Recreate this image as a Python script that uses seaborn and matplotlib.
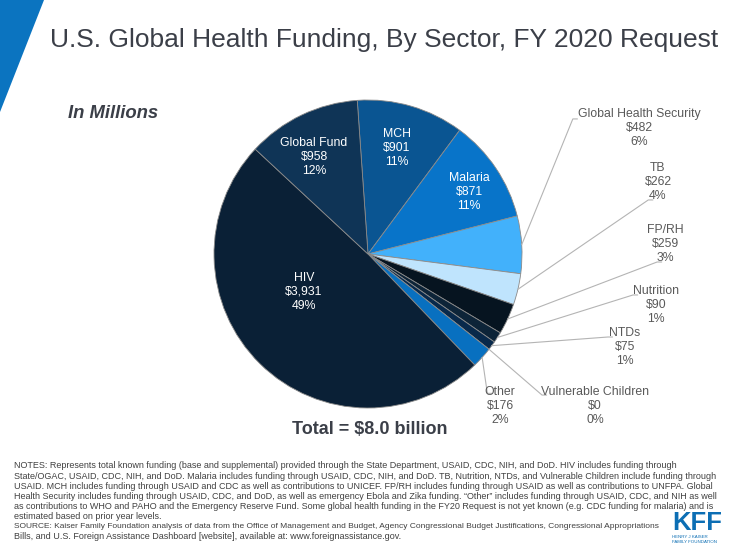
import matplotlib
matplotlib.use("Agg")
import matplotlib.pyplot as plt
import seaborn as sns
import numpy as np
from matplotlib.patches import Polygon
from matplotlib.lines import Line2D
from matplotlib import font_manager

# ---------------- data ----------------
sectors = ["MCH", "Malaria", "Global Health Security", "TB", "FP/RH", "Nutrition",
           "NTDs", "Vulnerable Children", "Other", "HIV", "Global Fund"]
values = [901, 871, 482, 262, 259, 90, 75, 0, 176, 3931, 958]
pct_text = ["11%", "11%", "6%", "4%", "3%", "1%", "1%", "0%", "2%", "49%", "12%"]
slice_colors = ["#0a5592", "#0874c9", "#42b1fb", "#bfe4fd", "#061420", "#0d2438",
                "#08294b", "#08294b", "#0870c0", "#0a2036", "#0f3456"]

title = "U.S. Global Health Funding, By Sector, FY 2020 Request"
subtitle = "In Millions"
total_text = "Total = $8.0 billion"
notes_lines = [
    "NOTES: Represents total known funding (base and supplemental) provided through the State Department, USAID, CDC, NIH, and DoD. HIV includes funding through",
    "State/OGAC, USAID, CDC, NIH, and DoD. Malaria includes funding through USAID, CDC, NIH, and DoD. TB, Nutrition, NTDs, and Vulnerable Children include funding through",
    "USAID. MCH includes funding through USAID and CDC as well as contributions to UNICEF. FP/RH includes funding through USAID as well as contributions to UNFPA. Global",
    "Health Security includes funding through USAID, CDC, and DoD, as well as emergency Ebola and Zika funding. \u201cOther\u201d includes funding through USAID, CDC, and NIH as well",
    "as contributions to WHO and PAHO and the Emergency Reserve Fund. Some global health funding in the FY20 Request is not yet known (e.g. CDC funding for malaria) and is",
    "estimated based on prior year levels.",
    "SOURCE: Kaiser Family Foundation analysis of data from the Office of Management and Budget, Agency Congressional Budget Justifications, Congressional Appropriations",
    "Bills, and U.S. Foreign Assistance Dashboard [website], available at: www.foreignassistance.gov.",
]

# label placement (pie-radius units, relative to pie centre)
inside_pos = {"HIV": (-0.416, -0.245), "Global Fund": (-0.35, 0.63),
              "MCH": (0.188, 0.69), "Malaria": (0.656, 0.405)}
outside_pos = {"Global Health Security": ((1.76, 0.818), (1.33, 0.877)),
               "TB": ((1.883, 0.468), (1.82, 0.351)),
               "FP/RH": ((1.929, 0.065), (1.877, -0.052)),
               "Nutrition": ((1.87, -0.331), (1.721, -0.266)),
               "NTDs": ((1.669, -0.604), (1.558, -0.539)),
               "Vulnerable Children": ((1.474, -0.987), (1.13, -0.916)),
               "Other": ((0.857, -0.987), (0.775, -0.905))}

# ---------------- figure ----------------
W, H = 735, 551
sns.set_theme(style="white")
plt.rcParams['font.family'] = ['Liberation Sans', 'DejaVu Sans']
palette = sns.color_palette(slice_colors)

installed = {f.name for f in font_manager.fontManager.ttflist}
narrow = ['Liberation Sans Narrow'] if 'Liberation Sans Narrow' in installed else ['Liberation Sans']
narrow = narrow + ['DejaVu Sans']

fig = plt.figure(figsize=(W / 100, H / 100), dpi=100)
fig.patch.set_facecolor("white")
renderer = fig.canvas.get_renderer()


def fit_width(txt, target_px):
    for _ in range(4):
        w = txt.get_window_extent(renderer=renderer).width
        txt.set_fontsize(txt.get_fontsize() * target_px / w)
    return txt.get_fontsize()


# decorative blue triangle
fig.patches.append(Polygon([(0, 1), (44 / W, 1), (0, 1 - 112 / H)], closed=True,
                           transform=fig.transFigure, facecolor="#0b74c0",
                           edgecolor="none"))

t = fig.text(50 / W, 1 - 40 / H, title, fontsize=22, color="#3b3f48",
             family=narrow, ha="left", va="center")
fit_width(t, 668)

fig.text(68 / W, 1 - 113 / H, subtitle, fontsize=13.3, color="#3b3f48",
         fontweight="bold", fontstyle="italic", ha="left", va="center")

cx, cy, R = 368, 254, 154
ax = fig.add_axes([(cx - R) / W, 1 - (cy + R) / H, 2 * R / W, 2 * R / H])
wedges, _ = ax.pie(values, colors=palette, startangle=94, counterclock=False,
                   radius=1, wedgeprops=dict(edgecolor="#8a8a8a", linewidth=0.6))
ax.set_xlim(-1, 1)
ax.set_ylim(-1, 1)
ax.axis("off")

for name, val, pct, w in zip(sectors, values, pct_text, wedges):
    label = f"{name}\n${val:,}\n{pct}"
    if name in inside_pos:
        x, y = inside_pos[name]
        ax.text(x, y, label, color="white", fontsize=8.8, ha="center", va="center",
                linespacing=1.22)
    else:
        (tx, ty), (lx, ly) = outside_pos[name]
        ang = np.deg2rad((w.theta1 + w.theta2) / 2)
        ex, ey = np.cos(ang), np.sin(ang)
        ax.add_line(Line2D([ex, lx, lx + 0.03], [ey, ly, ly], color="#b4b4b4",
                           linewidth=0.8, clip_on=False))
        ax.text(tx, ty, label, color="#595959", fontsize=8.8, ha="center",
                va="center", linespacing=1.22, clip_on=False)

fig.text(370 / W, 1 - 429 / H, total_text, fontsize=13, fontweight="bold",
         color="#3b3f48", ha="center", va="center")

# notes: one common size, set by the widest line; SOURCE line kept clear of the logo
note_texts = []
for i, line in enumerate(notes_lines):
    note_texts.append(fig.text(14 / W, 1 - (466 + i * 10.1) / H, line, fontsize=6.8,
                               color="#404040", family=narrow, ha="left", va="center"))
fs = fit_width(note_texts[1], 700)
for nt in note_texts:
    nt.set_fontsize(fs)
if note_texts[6].get_window_extent(renderer=renderer).x1 > 652:
    fit_width(note_texts[6], 638)

# KFF logo
k = fig.text(672 / W, 1 - 530 / H, "KFF", fontsize=23, fontweight="bold", color="#0c6eb4",
             family=narrow, ha="left", va="baseline")
fit_width(k, 50)
k.set_fontsize(min(k.get_fontsize(), 23))
fig.text(672 / W, 1 - 537.5 / H, "HENRY J KAISER", fontsize=3.2, color="#0c6eb4",
         ha="left", va="center")
fig.text(672 / W, 1 - 542 / H, "FAMILY FOUNDATION", fontsize=3.2, color="#0c6eb4",
         ha="left", va="center")

fig.savefig("out.png", dpi=100, facecolor="white")
